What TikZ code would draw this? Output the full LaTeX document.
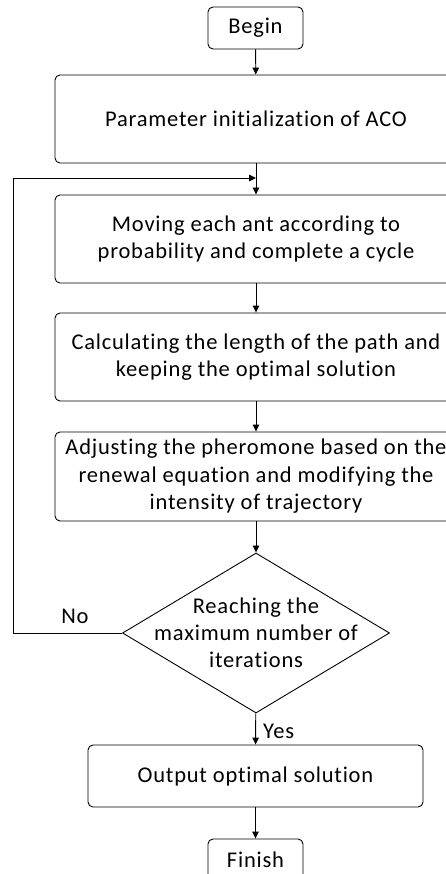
\documentclass[tikz,border=0pt]{standalone}
\usepackage{fontspec}
\setmainfont{Carlito}[Ligatures=CommonOff, LetterSpace=3.5]
\usetikzlibrary{arrows.meta,shapes.geometric}
\tikzset{
  box/.style={draw=black, line width=0.9pt, rounded corners=5pt, align=center, inner sep=0pt,
    font=\fontsize{22.5}{27.5}\selectfont},
  decision/.style={draw=black, line width=0.9pt, diamond, aspect=1.67, inner xsep=-110pt, inner ysep=-45pt, align=center,
    font=\fontsize{22.5}{27}\selectfont},
  conn/.style={draw=black, line width=0.9pt, -{Triangle[length=7pt,width=6.5pt]}},
  plain/.style={draw=black, line width=0.9pt},
  lbl/.style={font=\fontsize{22.5}{27}\selectfont, inner sep=0pt}
}
\begin{document}
\begin{tikzpicture}[x=1pt,y=-1pt]
\useasboundingbox (0,0) rectangle (446,874);
\clip (0,0) rectangle (446,874);
\node[box, minimum width=95pt, minimum height=42pt] (begin) at (255.5,28) {Begin};
\node[box, minimum width=402pt, minimum height=88pt] (init) at (256,119) {Parameter initialization of ACO};
\node[box, minimum width=402pt, minimum height=88pt] (move) at (256,239) {Moving each ant according to\\probability and complete a cycle};
\node[box, minimum width=402pt, minimum height=88pt] (calc) at (256,357) {Calculating the length of the path and\\keeping the optimal solution};
\node[box, minimum width=402pt, minimum height=89pt] (adj) at (256,476.5) {Adjusting the pheromone based on the\\renewal equation and modifying the\\intensity of trajectory};
\node[decision, minimum width=267pt, minimum height=160pt] (dec) at (256,633) {Reaching the\\maximum number of\\iterations};
\node[box, minimum width=335pt, minimum height=62pt] (out) at (255.5,776) {Output optimal solution};
\node[box, minimum width=95pt, minimum height=42pt] (fin) at (255.5,860) {Finish};
\coordinate (join) at (256,178);
\coordinate (loop) at (13,633);
\draw[conn] (begin) -- (init);
\draw[plain] (init) -- (join);
\draw[conn] (join) -- (move);
\draw[conn] (move) -- (calc);
\draw[conn] (calc) -- (adj);
\draw[conn] (adj) -- (dec);
\draw[conn] (dec) -- (out);
\node[lbl, anchor=west] (yes) at (263,731) {Yes};
\draw[conn] (out) -- (fin);
\draw[conn] (dec.west) -- (loop) |- (join);
\node[lbl] (no) at (75,616) {No};
\end{tikzpicture}
\end{document}
